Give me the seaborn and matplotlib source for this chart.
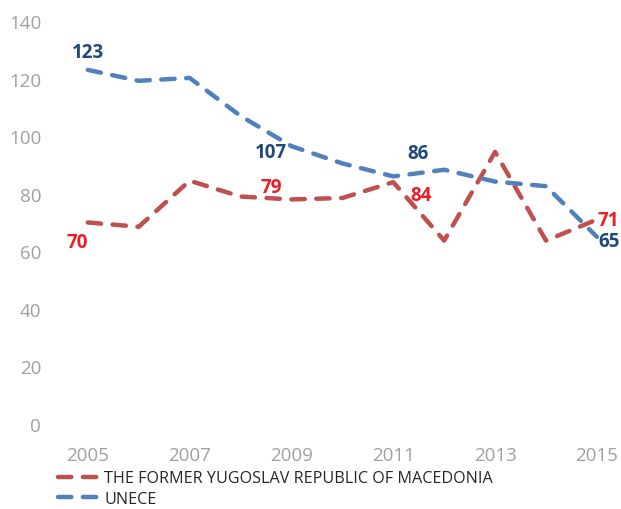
import pandas as pd
import seaborn as sns
import matplotlib.pyplot as plt

# --- dados ---
ANOS = [2005, 2006, 2007, 2008, 2009, 2010, 2011, 2012, 2013, 2014, 2015]
MKD = [70, 68.5, 84.5, 79, 78, 78.5, 84, 63.7, 94.5, 63.7, 71]
UNECE = [123, 119.2, 120.2, 107, 96.5, 90.5, 86, 88.3, 84.2, 82.6, 65]
SERIES = ["THE FORMER YUGOSLAV REPUBLIC OF MACEDONIA", "UNECE"]
ANOS_ROTULO = [2005, 2008, 2011, 2015]
TICKS_X = [2005, 2007, 2009, 2011, 2013, 2015]
TICKS_Y = [0, 20, 40, 60, 80, 100, 120, 140]

COR_LINHA = {SERIES[0]: "#c0504d", SERIES[1]: "#4f81bd"}
COR_ROTULO = {SERIES[0]: "#ee1c25", SERIES[1]: "#1f497d"}
# deslocamento dos rótulos (pontos) por serie/ano
OFFS = {
    (SERIES[0], 2005): (-8, -14), (SERIES[0], 2008): (22, 7),
    (SERIES[0], 2011): (20, -9), (SERIES[0], 2015): (8.5, 0),
    (SERIES[1], 2005): (0, 13), (SERIES[1], 2008): (22, -26),
    (SERIES[1], 2011): (18, 17), (SERIES[1], 2015): (8.5, -3),
}

df = pd.DataFrame({"ano": ANOS, SERIES[0]: MKD, SERIES[1]: UNECE})
df_long = df.melt(id_vars="ano", var_name="serie", value_name="valor")

sns.set_style("white")
plt.rcParams["font.family"] = ["Open Sans", "DejaVu Sans"]

fig = plt.figure(figsize=(6.21, 5.10), dpi=100)
ax = fig.add_axes([0.084, 0.1667, 0.91, 0.7903])

padrao = (3.0, 2.6)
sns.lineplot(data=df_long, x="ano", y="valor", hue="serie", style="serie",
             palette=COR_LINHA, dashes={SERIES[0]: padrao, SERIES[1]: padrao},
             linewidth=3.2, legend=False, ax=ax)
for ln in ax.lines:
    ln.set_dash_capstyle("round")

for s in SERIES:
    sub = df_long[df_long["serie"] == s].set_index("ano")
    for a in ANOS_ROTULO:
        v = sub.loc[a, "valor"]
        ax.annotate(f"{v:.0f}", (a, v), xytext=OFFS[(s, a)], textcoords="offset points",
                    ha="center", va="center", fontsize=13.5, fontweight="bold",
                    color=COR_ROTULO[s], annotation_clip=False)

ax.set_xlim(2004.3, 2015.4)
ax.set_ylim(0, 140)
ax.set_xticks(TICKS_X)
ax.set_yticks(TICKS_Y)
ax.tick_params(axis="both", length=0, labelsize=13.5, labelcolor="#a0a0a0")
ax.tick_params(axis="x", pad=16)
ax.tick_params(axis="y", pad=8)
ax.set_xlabel("")
ax.set_ylabel("")
sns.despine(ax=ax, left=True, bottom=True)

handles = [plt.Line2D([], [], color=COR_LINHA[s], linewidth=3.2, dashes=padrao,
                      dash_capstyle="round") for s in SERIES]
fig.legend(handles, SERIES, loc="upper left", bbox_to_anchor=(0.093, 0.076),
           frameon=False, fontsize=11.6, handlelength=2.5, handletextpad=0.4,
           labelspacing=0.3, borderaxespad=0, borderpad=0)

plt.savefig("out.png", dpi=100)
plt.close()
